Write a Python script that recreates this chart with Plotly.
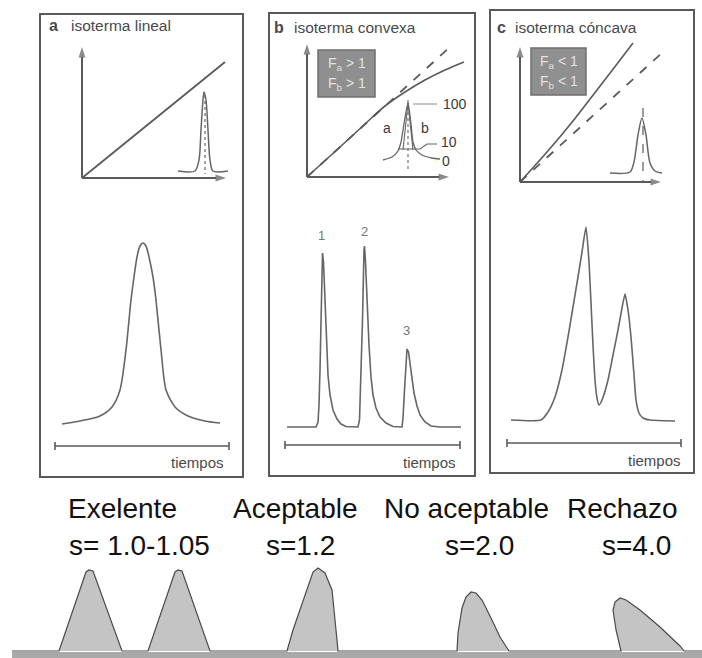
import plotly.graph_objects as go

W, H = 702, 658
BOX = "#5a5a5a"
CURVE = "#666666"
TXT = "#4a4a4a"

# ---------------- panel frames (pixels of the illustration) ----------------
panel_left = [40, 269, 490]
panel_top = [14, 13, 10]
panel_right = [243, 475, 694]
panel_bottom = [477, 476, 473]
panel_letter = ["a", "b", "c"]
panel_title = ["isoterma lineal", "isoterma convexa", "isoterma cóncava"]
letter_x = [53, 279, 501]
title_x = [69, 292, 513]
title_y = [25, 27, 27]

# ---------------- isotherm axes ----------------
axis_origin_x = [82, 307, 520]
axis_origin_y = [178, 177, 182]
axis_ytip = [47, 44, 47]
axis_xtip = [226, 449, 661]

# ---------------- isotherm curves ----------------
lin_a_x = [82, 225]
lin_a_y = [178, 62]
ideal_b_x = [307, 450]
ideal_b_y = [177, 47]
convex_b_x = [307, 340, 365, 385, 405, 425, 445, 464]
convex_b_y = [177, 147, 124, 106, 92, 80, 70, 62]
ideal_c_x = [520, 663]
ideal_c_y = [182, 52]
concave_c_x = [520, 547, 573, 597, 617, 633]
concave_c_y = [182, 152, 121, 90, 64, 43]

# grey factor boxes (panels b, c)
fbox_left = [318, 531]
fbox_right = [375, 586]
fbox_top = [50, 48]
fbox_bottom = [97, 95]
fbox_line1 = ["F<sub>a</sub> > 1", "F<sub>a</sub> < 1"]
fbox_line2 = ["F<sub>b</sub> > 1", "F<sub>b</sub> < 1"]

# ---------------- small inset peaks ----------------
inset_a_x = [178, 195, 199, 201, 203, 204, 206, 208, 210, 213, 228]
inset_a_y = [171, 171, 160, 130, 100, 92, 100, 130, 160, 171, 171]
inset_a_dash_x = [205, 205]
inset_a_dash_y = [95, 174]

inset_b_x = [383, 392, 398, 401, 404, 408, 411, 413, 416, 422, 432, 440]
inset_b_y = [160, 157, 151, 142, 124, 103, 124, 142, 150, 155, 158, 159]
inset_b_inner_x = [403, 406, 408, None, 408, 410, 413]
inset_b_inner_y = [150, 125, 103, None, 103, 125, 150]
inset_b_dash_x = [408, 408]
inset_b_dash_y = [100, 172]
lead100_x = [413, 437]
lead100_y = [104, 104]
lead10_x = [398, 420, 427, 437]
lead10_y = [149, 149, 144, 144]
inset_b_labels = ["100", "10", "0", "a", "b"]
inset_b_label_x = [455, 449, 446, 387, 425]
inset_b_label_y = [104, 142, 161, 128, 128]

inset_c_x = [610, 630, 634, 638, 642, 646, 650, 655, 662]
inset_c_y = [173, 172, 162, 135, 118, 135, 163, 171, 173]
inset_c_dash_x = [643, 643]
inset_c_dash_y = [108, 182]

# ---------------- chromatograms ----------------
chrom_a_x = [62, 80, 100, 112, 120, 126, 131, 134, 137, 140, 143, 146, 149, 153, 156, 161,
             166, 175, 188, 205, 220]
chrom_a_y = [424, 421, 416, 407, 390, 350, 300, 277, 257, 246, 243, 246, 257, 277, 300, 350,
             390, 407, 416, 421, 423]

chrom_b_x = [287, 316, 318, 319, 320, 321, 322, 322.5, 323.5, 325, 326.5, 328, 330, 333, 337,
             341, 346, 358,
             359.5, 361, 362.5, 364, 364.5, 365.5, 367, 369, 371, 373, 376, 380, 386, 393, 402,
             403, 404.5, 406, 407, 408.5, 410, 412, 414, 417, 420, 425, 431, 440, 461]
chrom_b_y = [427, 427, 422, 405, 370, 320, 270, 253, 262, 300, 340, 375, 395, 410, 419,
             424, 426.5, 427,
             420, 380, 320, 250, 246, 262, 300, 345, 377, 395, 408, 417, 423, 426.5, 427,
             418, 390, 360, 349, 352, 363, 380, 393, 406, 415, 422, 426, 427, 427]
peak_b_num = ["1", "2", "3"]
peak_b_num_x = [321, 364, 406]
peak_b_num_y = [235, 231, 330]

chrom_c_x = [511, 541, 548, 555, 562, 568, 573, 578, 582, 586, 589, 591, 593, 595, 597, 599,
             602, 608, 613, 618, 622, 625, 628, 631, 634, 636, 639, 643, 650, 675]
chrom_c_y = [420, 420, 412, 397, 370, 337, 307, 277, 252, 227, 262, 303, 345, 380, 398, 405,
             400, 380, 355, 330, 308, 294, 310, 337, 375, 400, 413, 418, 420, 421]

# time bars
time_x0 = [55, 285, 507]
time_x1 = [229, 460, 681]
time_y = [446, 445, 443]
time_label_x = [226, 458, 683]
time_label_y = [462, 462, 460]

# ---------------- bottom: quality vs symmetry ----------------
quality_label = ["Exelente", "Aceptable", "No aceptable", "Rechazo"]
quality_label_x = [122, 295, 466, 622]
quality_s = ["s= 1.0-1.05", "s=1.2", "s=2.0", "s=4.0"]
quality_s_x = [139, 300, 479, 636]

bottom_x = [12, 59, 86, 89, 93, 122, 148, 175, 178, 182, 210, 287, 293, 302, 310, 313, 318,
            325, 332, 335, 337, 338, 457, 458, 462, 466, 471, 476, 482, 490, 500, 509,
            621, 616, 613, 615, 620, 626, 640, 660, 680, 684, 702]
bottom_y = [651, 651, 572, 570, 571, 651, 651, 572, 570, 571, 651, 651, 630, 603, 580, 572, 568,
            573, 590, 617, 640, 651, 651, 633, 608, 597, 592, 593, 600, 616, 637, 651,
            651, 630, 610, 602, 598, 600, 610, 627, 646, 651, 651]

fig = go.Figure()


def line(x, y, color=CURVE, width=1.6, dash="solid", shape="linear", smoothing=1.0):
    ln = dict(color=color, width=width, dash=dash, shape=shape)
    if shape == "spline":
        ln["smoothing"] = smoothing
    fig.add_trace(go.Scatter(x=x, y=y, mode="lines", hoverinfo="skip", showlegend=False,
                             line=ln))


def text(t, x, y, size, color=TXT, xanchor="center", family="Liberation Sans, Arial, sans-serif"):
    fig.add_annotation(x=x, y=y, xref="x", yref="y", text=t, showarrow=False,
                       xanchor=xanchor, yanchor="middle",
                       font=dict(size=size, color=color, family=family))


def arrow(x, y):
    fig.add_trace(go.Scatter(x=x, y=y, mode="lines+markers", hoverinfo="skip", showlegend=False,
                             line=dict(color=BOX, width=2),
                             marker=dict(symbol="arrow", size=[0, 11], angleref="previous",
                                         color=BOX, line=dict(width=0))))


# frames and titles
for i in range(3):
    fig.add_shape(type="rect", xref="x", yref="y", x0=panel_left[i], x1=panel_right[i],
                  y0=panel_top[i], y1=panel_bottom[i], line=dict(color=BOX, width=2))
    text("<b>" + panel_letter[i] + "</b>", letter_x[i], title_y[i], 16, xanchor="center")
    text(panel_title[i], title_x[i], title_y[i], 15.5, xanchor="left")
    arrow([axis_origin_x[i], axis_origin_x[i]], [axis_origin_y[i], axis_ytip[i]])
    arrow([axis_origin_x[i], axis_xtip[i]], [axis_origin_y[i], axis_origin_y[i]])
    line([time_x0[i], time_x1[i], None, time_x0[i], time_x0[i], None, time_x1[i], time_x1[i]],
         [time_y[i], time_y[i], None, time_y[i] - 4, time_y[i] + 4, None, time_y[i] - 4, time_y[i] + 4],
         color=BOX, width=1.6)
    text("tiempos", time_label_x[i], time_label_y[i], 15, xanchor="right")

# factor boxes
for j in range(2):
    fig.add_shape(type="rect", xref="x", yref="y", x0=fbox_left[j], x1=fbox_right[j],
                  y0=fbox_top[j], y1=fbox_bottom[j], fillcolor="#8f8f8f",
                  line=dict(color="#6f6f6f", width=1.5))
    cx = (fbox_left[j] + fbox_right[j]) / 2
    text(fbox_line1[j], cx, fbox_top[j] + 14, 14, color="#e2e2e2")
    text(fbox_line2[j], cx, fbox_top[j] + 34, 14, color="#e2e2e2")

# isotherms
line(lin_a_x, lin_a_y, color=BOX, width=1.8)
line(ideal_b_x, ideal_b_y, color=BOX, width=1.8, dash="dash")
line(convex_b_x, convex_b_y, color=BOX, width=1.6, shape="spline")
line(ideal_c_x, ideal_c_y, color=BOX, width=1.8, dash="dash")
line(concave_c_x, concave_c_y, color=BOX, width=1.6, shape="spline")

# insets
line(inset_a_x, inset_a_y, shape="spline", width=1.5, smoothing=0.8)
line(inset_a_dash_x, inset_a_dash_y, dash="dot", width=1.2)
line(inset_b_x, inset_b_y, shape="spline", width=1.3, smoothing=0.6)
line(inset_b_inner_x, inset_b_inner_y, width=1.1)
line(inset_b_dash_x, inset_b_dash_y, dash="dot", width=1.1)
line(lead100_x, lead100_y, width=1, color="#888")
line(lead10_x, lead10_y, width=1.2)
for t, x, y in zip(inset_b_labels, inset_b_label_x, inset_b_label_y):
    text(t, x, y, 14, color="#3a3a3a")
line(inset_c_x, inset_c_y, shape="spline", width=1.5, smoothing=0.8)
line(inset_c_dash_x, inset_c_dash_y, dash="dash", width=1.3)

# chromatograms
line(chrom_a_x, chrom_a_y, shape="spline", width=1.6, smoothing=0.7)
line(chrom_b_x, chrom_b_y, width=1.6)
line(chrom_c_x, chrom_c_y, shape="spline", width=1.6, smoothing=0.5)
for t, x, y in zip(peak_b_num, peak_b_num_x, peak_b_num_y):
    text(t, x, y, 13, color="#777")

# bottom section
fig.add_shape(type="rect", xref="x", yref="y", x0=12, x1=702, y0=652, y1=658,
              fillcolor="#a9a9a9", line=dict(width=0))
fig.add_trace(go.Scatter(x=bottom_x, y=bottom_y, mode="lines", fill="toself",
                         fillcolor="#c4c4c4", hoverinfo="skip", showlegend=False,
                         line=dict(color="#4a4a4a", width=1.2)))
for t, x in zip(quality_label, quality_label_x):
    text(t, x, 508, 28, color="#111")
for t, x in zip(quality_s, quality_s_x):
    text(t, x, 545, 28, color="#111")

fig.update_layout(width=W, height=H, autosize=False,
                  margin=dict(l=0, r=0, t=0, b=0, pad=0),
                  paper_bgcolor="white", plot_bgcolor="white",
                  xaxis=dict(range=[0, W], visible=False, fixedrange=True),
                  yaxis=dict(range=[H, 0], visible=False, fixedrange=True))

fig.write_html("out.html", config={"displayModeBar": False},
               post_script="document.body.style.margin='0';")
